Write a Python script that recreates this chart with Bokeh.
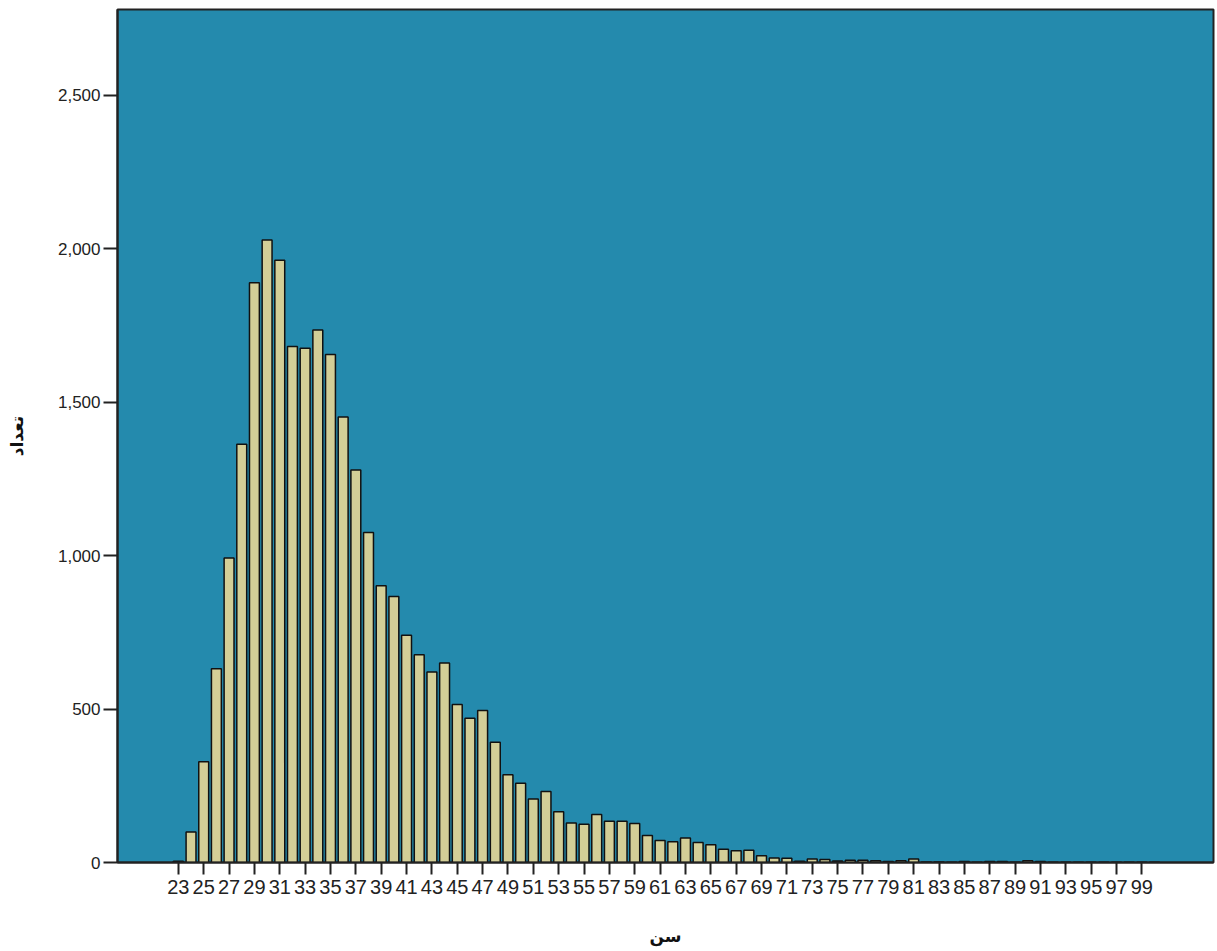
from bokeh.plotting import figure
from bokeh.models import Range1d, FixedTicker, NumeralTickFormatter, ColumnDataSource
from bokeh.embed import file_html
from bokeh.resources import INLINE

# Age categories (سن) and counts (تعداد)
ages = [23, 24, 25, 26, 27, 28, 29, 30, 31, 32, 33, 34, 35, 36, 37, 38, 39, 40,
        41, 42, 43, 44, 45, 46, 47, 48, 49, 50, 51, 52, 53, 54, 55, 56, 57, 58,
        59, 60, 61, 62, 63, 64, 65, 66, 67, 68, 69, 70, 71, 72, 73, 74, 75, 76,
        77, 78, 79, 80, 81, 82, 83, 84, 85, 86, 87, 88, 89, 90, 91, 92, 93, 94,
        95, 96, 97, 98, 99, 100]
counts = [4, 99, 328, 631, 992, 1363, 1889, 2028, 1962, 1681, 1675, 1735, 1655, 1451, 1279, 1075, 902, 867,
          740, 677, 621, 650, 515, 470, 495, 392, 286, 258, 207, 231, 165, 129, 125, 156, 134, 134,
          127, 88, 72, 68, 80, 65, 58, 43, 38, 40, 22, 15, 14, 4, 11, 10, 5, 7,
          7, 6, 3, 6, 11, 2, 2, 1, 3, 1, 3, 3, 1, 6, 3, 1, 1, 1,
          1, 1, 1, 1, 1, 1]
x_tick_values = [23, 25, 27, 29, 31, 33, 35, 37, 39, 41, 43, 45, 47, 49, 51, 53, 55, 57, 59,
                 61, 63, 65, 67, 69, 71, 73, 75, 77, 79, 81, 83, 85, 87, 89, 91, 93, 95, 97, 99]
y_tick_values = [0, 500, 1000, 1500, 2000, 2500]
x_title = "سن"
y_title = "تعداد"

src = ColumnDataSource(data=dict(age=ages, count=counts))

p = figure(width=1217, height=948, output_backend="svg", toolbar_location=None,
           x_range=Range1d(18.2, 104.65), y_range=Range1d(0, 2779),
           min_border_left=117, min_border_right=4, min_border_top=9, min_border_bottom=84)

p.vbar(x="age", top="count", width=0.78, source=src,
       fill_color="#D3CE97", line_color="#111111", line_width=1.5)

p.background_fill_color = "#248AAD"
p.border_fill_color = "white"
p.outline_line_color = "#222222"
p.outline_line_width = 2
p.xgrid.visible = False
p.ygrid.visible = False

for ax in (p.xaxis[0], p.yaxis[0]):
    ax.major_tick_in = 0
    ax.minor_tick_out = 0
    ax.minor_tick_in = 0
    ax.axis_line_color = "#222222"
    ax.axis_line_width = 2
    ax.major_tick_line_color = "#222222"
    ax.major_tick_line_width = 2
    ax.major_label_text_color = "#222222"
    ax.major_label_text_font = "Liberation Sans"
    ax.axis_label_text_font = "DejaVu Sans"
    ax.axis_label_text_font_style = "bold"
    ax.axis_label_text_font_size = "17px"
    ax.axis_label_text_color = "#111111"

p.xaxis.ticker = FixedTicker(ticks=x_tick_values)
p.xaxis.major_tick_out = 12
p.xaxis.major_label_text_font_size = "20px"
p.xaxis.major_label_standoff = 5
p.xaxis.axis_label = x_title
p.xaxis.axis_label_standoff = 29

p.yaxis.ticker = FixedTicker(ticks=y_tick_values)
p.yaxis.formatter = NumeralTickFormatter(format="0,0")
p.yaxis.major_tick_out = 14
p.yaxis.major_label_text_font_size = "17px"
p.yaxis.major_label_standoff = 3
p.yaxis.axis_label = y_title
p.yaxis.axis_label_standoff = 28

open("out.html", "w").write(file_html(p, INLINE))
